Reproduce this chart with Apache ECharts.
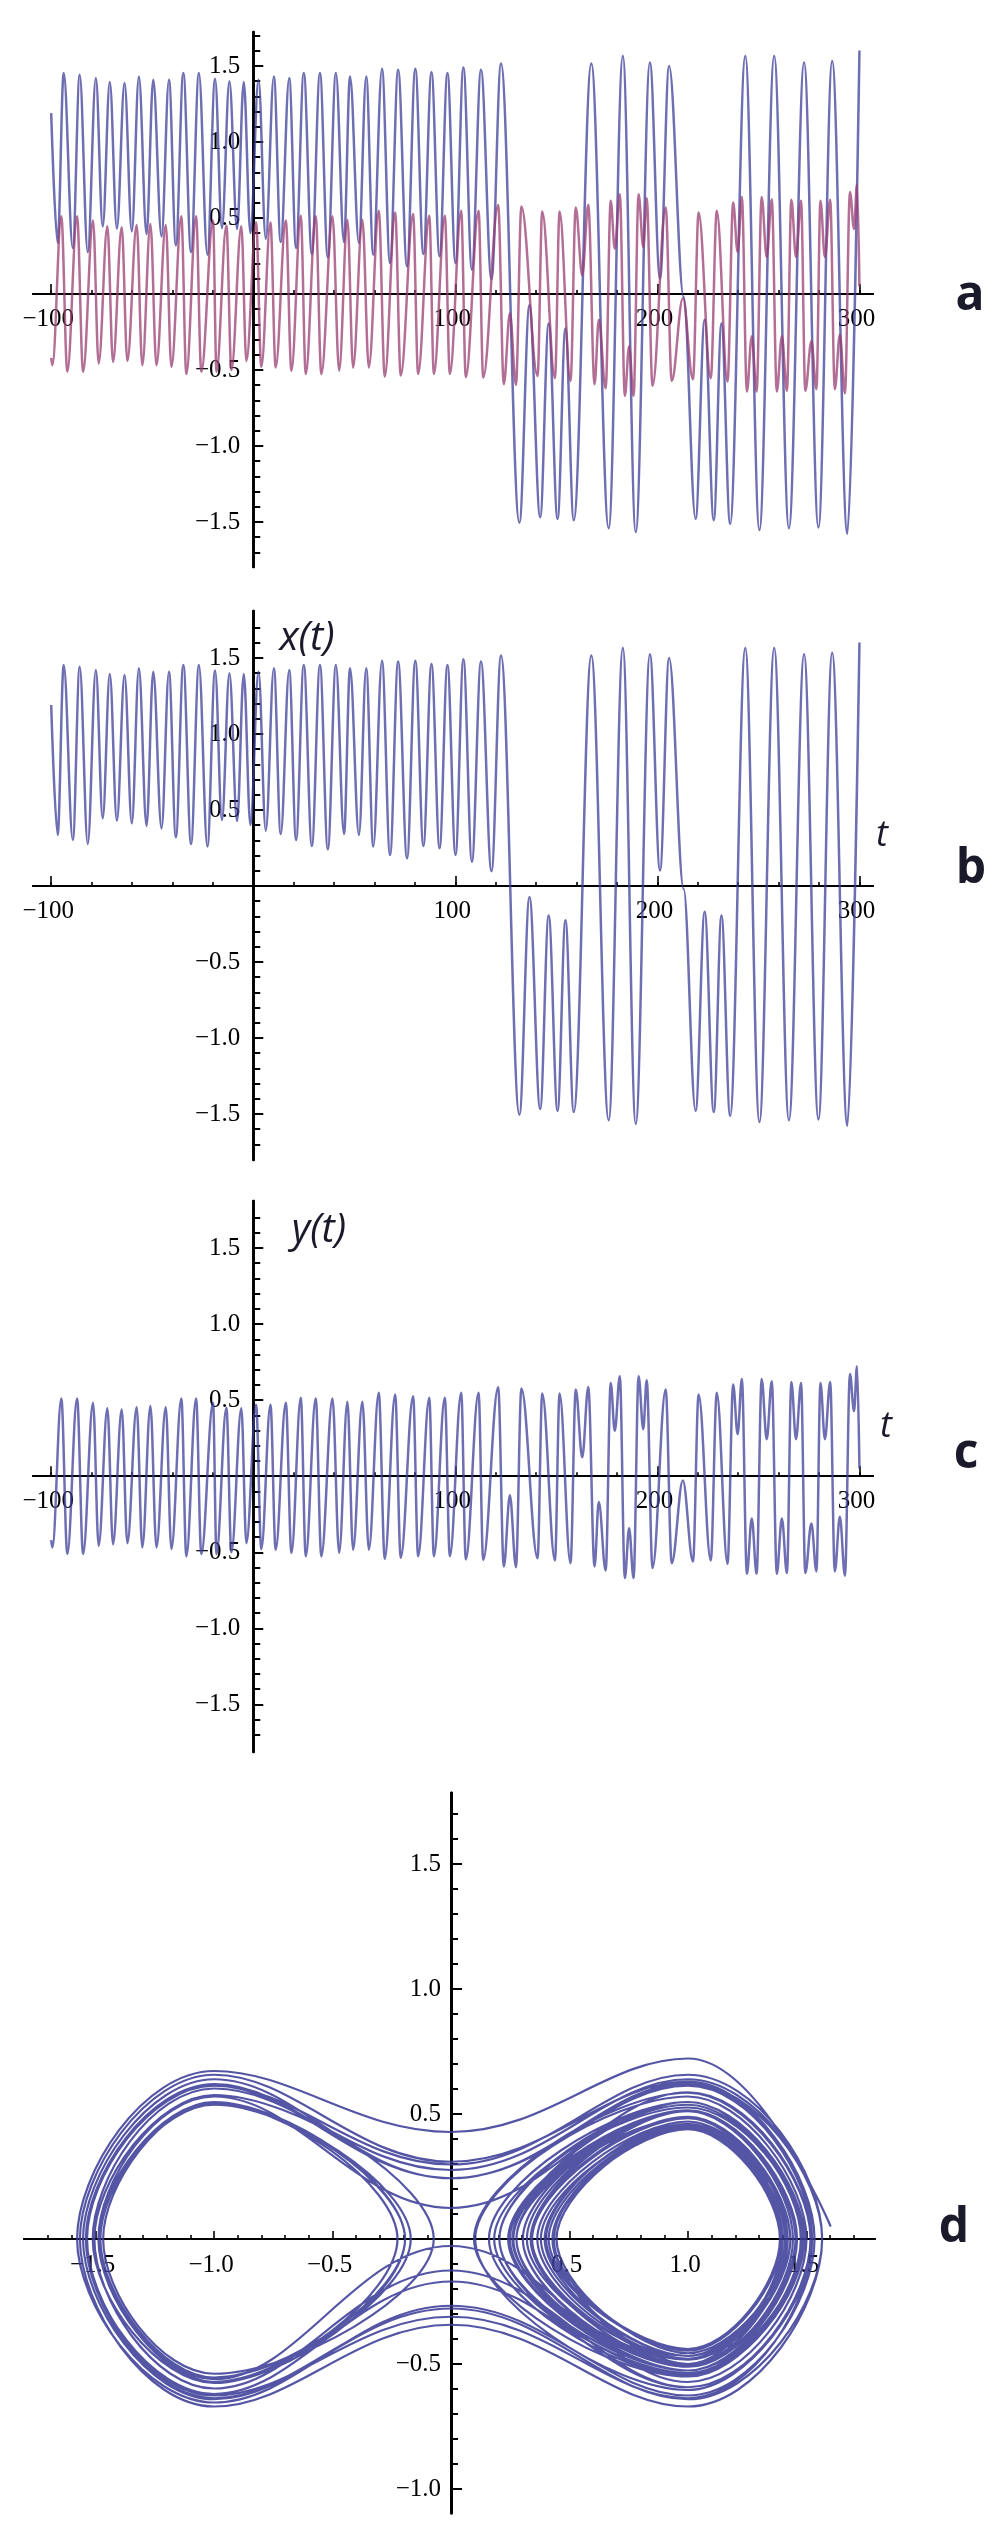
<!DOCTYPE html>
<html>
<head>
<meta charset="utf-8">
<title>Duffing time series and phase portrait</title>
<style>html,body{margin:0;padding:0;background:#fff}#c{width:1006px;height:2536px}</style>
<script src="https://cdn.jsdelivr.net/npm/echarts@6/dist/echarts.min.js"></script>
</head>
<body>
<div id="c"></div>
<script>
// x(t): turning points
const xTimes = [-100,-96.8,-93.8,-89.3,-85.9,-81.9,-77.9,-74.5,-71,-67.5,-63.7,-60.1,-56.6,-52.8,-49.5,-45.4,-41.7,-38.3,-34.6,-30.8,-26.9,-22.7,-18.9,-15.5,-11.8,-8,-4.7,-1.4,2.6,6.2,10.2,13.6,17.8,21.2,25,29,33,36.9,40.9,44.9,47.9,52.3,55.9,59.4,63.7,67.7,71.7,76.1,80.2,84.2,88.2,92.2,96.1,100.1,104,108.2,112.7,117.9,122.6,131.7,136.7,142,146.2,150.6,154.5,158.6,167.3,175.9,182.9,189.3,196.3,201.3,205.8,213,218.9,223.4,227.9,231.7,236,243.5,250.5,257.8,265.1,272.6,279.7,286.5,294,300];
const xValues = [1.19,0.336,1.454,0.303,1.443,0.276,1.421,0.445,1.395,0.43,1.388,0.412,1.432,0.395,1.41,0.379,1.41,0.32,1.454,0.276,1.454,0.259,1.417,0.434,1.4,0.428,1.395,0.401,1.41,0.364,1.432,0.342,1.421,0.303,1.454,0.263,1.454,0.241,1.454,0.342,1.432,0.336,1.432,0.259,1.482,0.204,1.476,0.182,1.482,0.263,1.46,0.248,1.454,0.204,1.491,0.16,1.476,0.097,1.517,-1.505,-0.073,-1.468,-0.194,-1.48,-0.226,-1.488,1.517,-1.541,1.566,-1.566,1.524,0.102,1.5,-0.02,-1.48,-0.17,-1.488,-0.194,-1.512,1.566,-1.553,1.566,-1.541,1.524,-1.536,1.534,-1.578,1.602];
// y(t): turning points
const yTimes = [-100,-99.4,-95,-92,-87.2,-84.2,-79.3,-76.5,-72.2,-69.4,-65.1,-62.3,-57.7,-54.9,-50.9,-47.9,-43.3,-40.5,-35.6,-33.1,-28.3,-25.7,-19.9,-18.2,-13.3,-10.8,-5.9,-3.4,1.4,4,8.5,11.1,16.1,18.9,23.5,26,30.9,33.7,39.2,42.5,46.6,49.4,54,57.2,62.1,65.1,70.2,73,79.1,81.6,87.1,89.4,94.8,97.3,102.9,105.2,111.5,113.8,121.2,124,127,130,132.7,140.7,143,149.3,151.6,157,159.6,162.8,165.8,168.9,171,174.4,176.9,178.9,181.4,183.9,186,188.2,190.7,193,194.7,197.6,204.1,207.1,212.6,217.6,220.4,226.4,229.4,234.7,237.5,239.7,241.8,244.3,246.7,249.1,251.6,254.1,256.6,259.1,261.6,264.1,266.3,268.6,271.1,273.2,276.2,278.7,280.7,282.9,285.5,287.8,290.3,292.8,295.3,297.3,298.8,300];
const yValues = [-0.42,-0.468,0.511,-0.511,0.511,-0.511,0.483,-0.457,0.446,-0.447,0.439,-0.44,0.454,-0.468,0.461,-0.468,0.454,-0.479,0.511,-0.526,0.511,-0.511,0.483,-0.511,0.45,-0.5,0.446,-0.44,0.47,-0.479,0.47,-0.483,0.483,-0.504,0.515,-0.526,0.511,-0.526,0.511,-0.504,0.489,-0.483,0.489,-0.483,0.548,-0.543,0.537,-0.536,0.526,-0.526,0.515,-0.526,0.515,-0.526,0.548,-0.547,0.548,-0.55,0.585,-0.593,-0.126,-0.598,0.576,-0.539,0.543,-0.554,0.543,-0.572,0.57,0.124,0.587,-0.593,-0.17,-0.62,0.613,0.298,0.657,-0.67,-0.343,-0.67,0.657,0.309,0.63,-0.604,0.57,-0.572,-0.028,-0.561,0.537,-0.554,0.548,-0.576,0.602,0.276,0.639,-0.641,-0.278,-0.641,0.639,0.243,0.624,-0.641,-0.278,-0.637,0.62,0.243,0.613,-0.637,-0.311,-0.626,0.613,0.243,0.62,-0.626,-0.267,-0.654,0.672,0.428,0.722,0.05];
// tick labels
const timeTicks = [-100,100,200,300];
const timeMinor = [-100,-80,-60,-40,-20,20,40,60,80,100,120,140,160,180,200,220,240,260,280,300];
const timeMajor = [-100,100,200,300];
const valueTicks = [-1.5,-1,-0.5,0.5,1,1.5];
const valueMinor = [-1.7,-1.6,-1.4,-1.3,-1.2,-1.1,-0.9,-0.8,-0.7,-0.6,-0.4,-0.3,-0.2,-0.1,0.1,0.2,0.3,0.4,0.6,0.7,0.8,0.9,1.1,1.2,1.3,1.4,1.6,1.7];
const phaseYTicks = [-1,-0.5,0.5,1,1.5];
const phaseYMinor = [-0.9,-0.8,-0.7,-0.6,-0.4,-0.3,-0.2,-0.1,0.1,0.2,0.3,0.4,0.6,0.7,0.8,0.9,1.1,1.2,1.3,1.4,1.6,1.7];

const BLUE = '#3D3D99', PINK = '#993D71', INK = '#000';
const SERIF = '"Liberation Serif", serif';
const fmt = v => (v < 0 ? '\u2212' : '') + Math.abs(v).toFixed(1);

const grids = [], xAxes = [], yAxes = [], series = [];
function addPanel(box, xr, yr, xMaj, xMin, xLab, xFmt, yMaj, yMin, yLab, tick) {
  const g = grids.length;
  grids.push({left: box[0], top: box[1], width: box[2], height: box[3], containLabel: false});
  const xi = xAxes.length, yi = yAxes.length;
  // labels hang from the grid edges, so their margins reach back to the zero lines
  const leftOfZero = box[2] * (-xr[0]) / (xr[1] - xr[0]);
  const belowZero = box[3] * (-yr[0]) / (yr[1] - yr[0]);
  const xBase = {type:'value', gridIndex:g, min:xr[0], max:xr[1], position:'bottom', splitLine:{show:false}, scale:false,
    axisLine:{show:true, onZero:true, onZeroAxisIndex:yi, lineStyle:{color:INK, width:2}}};
  const yBase = {type:'value', gridIndex:g, min:yr[0], max:yr[1], position:'left', splitLine:{show:false},
    axisLine:{show:true, onZero:true, onZeroAxisIndex:xi, lineStyle:{color:INK, width:tick.yw}}};
  xAxes.push(Object.assign({}, xBase, {
    axisTick:{show:true, inside:true, length:tick.xM, customValues:xMaj, lineStyle:{color:INK, width:1.6}},
    axisLabel:{show:true, customValues:xLab, formatter:xFmt, margin:tick.xm - belowZero, fontFamily:SERIF, fontSize:25, color:INK, padding:[0,6,0,0], hideOverlap:false}
  }));
  xAxes.push(Object.assign({}, xBase, {
    axisTick:{show:true, inside:true, length:tick.xm2, customValues:xMin, lineStyle:{color:INK, width:1.6}},
    axisLabel:{show:false}
  }));
  yAxes.push(Object.assign({}, yBase, {
    axisTick:{show:true, inside:true, length:tick.yM, customValues:yMaj, lineStyle:{color:INK, width:2}},
    axisLabel:{show:true, customValues:yLab, formatter:fmt, margin:tick.ym - leftOfZero, fontFamily:SERIF, fontSize:25, color:INK, padding:[0,0,tick.yp,0], hideOverlap:false}
  }));
  yAxes.push(Object.assign({}, yBase, {
    axisTick:{show:true, inside:true, length:tick.ym2, customValues:yMin, lineStyle:{color:INK, width:2}},
    axisLabel:{show:false}
  }));
  return {xAxisIndex:xi, yAxisIndex:yi};
}
function line(ref, data, color, opts) {
  series.push(Object.assign({type:'line', xAxisIndex:ref.xAxisIndex, yAxisIndex:ref.yAxisIndex, data:data, showSymbol:false, symbol:'none',
    smooth:0.36, smoothMonotone:'x', clip:true, silent:true, animation:false,
    lineStyle:{color:color, width:2.5, opacity:0.75}}, opts||{}));
}
const pairs = (a,b) => a.map((v,i)=>[v,b[i]]);
const xPairs = pairs(xTimes,xValues), yPairs = pairs(yTimes,yValues);

const tickT = {xM:10, xm2:4, yM:10, ym2:7, yw:2.6, xm:13, ym:13, yp:15};
const tFmt = v => (v < 0 ? '\u2212' : '') + Math.abs(v);
const timeX = [-109, 306.7];

const a = addPanel([33,32,840,535], timeX, [-1.796,1.724], timeMajor, timeMinor, timeTicks, tFmt, valueTicks, valueMinor, valueTicks, tickT);
line(a, xPairs, BLUE); line(a, yPairs, PINK);
const b = addPanel([33,611,840,549], timeX, [-1.803,1.809], timeMajor, timeMinor, timeTicks, tFmt, valueTicks, valueMinor, valueTicks, tickT);
line(b, xPairs, BLUE);
const c = addPanel([33,1201,840,551], timeX, [-1.813,1.809], timeMajor, timeMinor, timeTicks, tFmt, valueTicks, valueMinor, valueTicks, tickT);
line(c, yPairs, BLUE);

// d: the same turning points walked in time order, x(t) against y(t)
const phase = [];
(function(){
  const xs = xTimes.map((t,i)=>({t, v:xValues[i]})).filter(p => Math.abs(p.v) > 0.05);
  for (let i = 0; i < xs.length; i++) {
    phase.push([xs[i].v, i === xs.length-1 ? yValues[yValues.length-1] : (i===0 ? yValues[0] : 0)]);
    if (i === xs.length-1) break;
    const mid = yTimes.map((t,k)=>({t, v:yValues[k]})).filter(p => p.t > xs[i].t && p.t < xs[i+1].t && p.t < 300 && p.t > -100);
    const sa = Math.sign(xs[i].v), sb = Math.sign(xs[i+1].v);
    mid.forEach((p,k) => {
      let px = sa;
      if (sa !== sb) px = k === 0 ? sa : (k === mid.length-1 ? sb : 0);
      phase.push([px, p.v]);
    });
  }
})();
const dTick = {xM:8, xm2:4, yM:11, ym2:7, yw:3, xm:14, ym:10, yp:13};
const d = addPanel([24,1793,851,720], [-1.802,1.789], [-1.096,1.784],
  valueTicks, valueMinor, valueTicks, fmt, phaseYTicks, phaseYMinor, phaseYTicks, dTick);
line(d, phase, BLUE, {smooth:0.4, smoothMonotone:null, lineStyle:{color:BLUE, width:2.2, opacity:0.88}});

const LABEL = '"Open Sans", sans-serif';
const txt = (s,x,y,size,style,weight) => ({type:'text', x:x, y:y, silent:true, style:{text:s, fontFamily:LABEL, fontSize:size, fontStyle:style, fontWeight:weight, fill:'#1a1a2a', align:'center', verticalAlign:'middle'}});
const graphic = [
  txt('x(t)',307,639,40,'italic','normal'), txt('t',882,836,36,'italic','normal'),
  txt('y(t)',319,1231,40,'italic','normal'), txt('t',886,1427,36,'italic','normal'),
  txt('a',970,296,48,'normal','bold'), txt('b',971,869,48,'normal','bold'),
  txt('c',966,1454,48,'normal','bold'), txt('d',954,2228,48,'normal','bold')
];

const chart = echarts.init(document.getElementById('c'), null, {renderer:'canvas', width:1006, height:2536});
chart.setOption({backgroundColor:'#fff', animation:false, tooltip:{show:false}, grid:grids, xAxis:xAxes, yAxis:yAxes, series:series, graphic:graphic});
</script>
</body>
</html>
